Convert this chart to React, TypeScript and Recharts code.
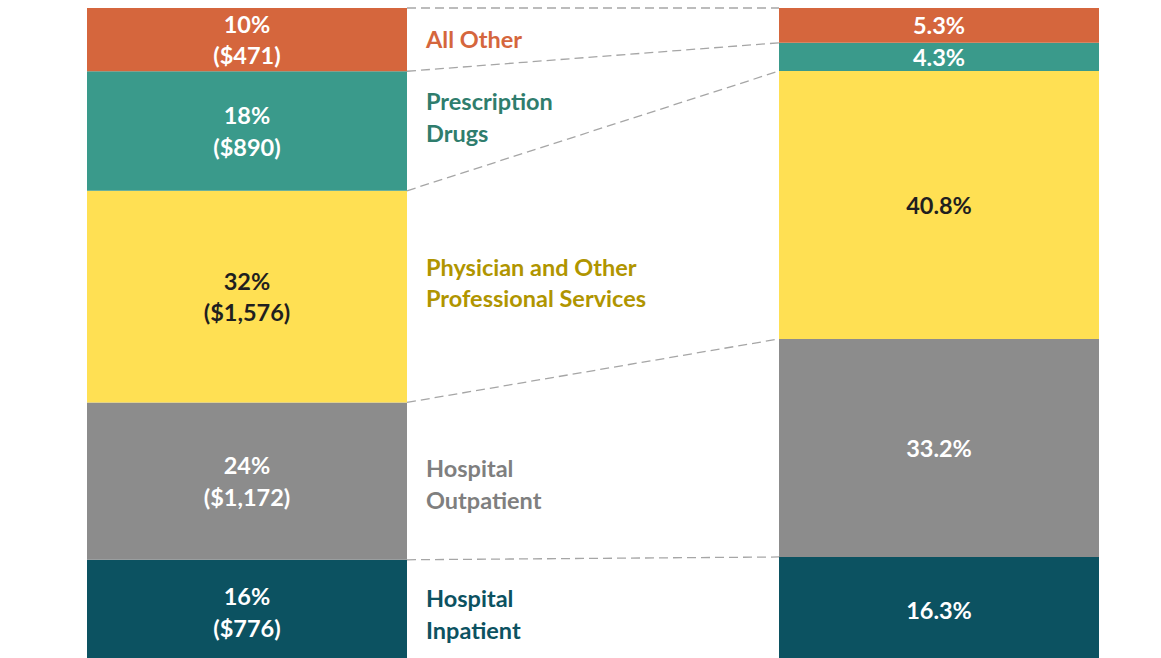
import { BarChart, Bar, XAxis, YAxis, LabelList, useOffset, useChartWidth, useChartHeight } from 'recharts'

// segments, bottom to top
const keys = ['inpatient', 'outpatient', 'physician', 'rx', 'other']
const sideLabels = [
  ['Hospital', 'Inpatient'],
  ['Hospital', 'Outpatient'],
  ['Physician and Other', 'Professional Services'],
  ['Prescription', 'Drugs'],
  ['All Other']
]
const leftPct = ['16%', '24%', '32%', '18%', '10%']
const leftDollars = [776, 1172, 1576, 890, 471]
const rightPct = [16.3, 33.2, 40.8, 4.3, 5.3]

const barColors = ['#0C5261', '#8C8C8C', '#FFE053', '#3A9A8B', '#D5663D']
const valueColors = ['#fff', '#fff', '#1F1F1F', '#fff', '#fff']
const sideColors = ['#0C5261', '#7F7F7F', '#B09500', '#2F7D6D', '#D5663D']
// side label vertical nudge (px), as placed in the original slide
const sideNudge = [2, 3, -14, -14, -1]

const W = 1161
const H = 664
const BAR = 320
const FONT = "Lato, 'Open Sans', sans-serif"
const FS = 23.5

const leftRow: any = { name: 'before' }
const gapRow: any = { name: 'gap' }
const rightRow: any = { name: 'after' }
keys.forEach((k, i) => {
  leftRow[k] = leftDollars[i]
  rightRow[k] = rightPct[i]
})
const data = [leftRow, gapRow, rightRow]

const fmt = (n: number) => '($' + n.toLocaleString('en-US') + ')'

function Connectors() {
  const offset: any = useOffset()
  const cw = useChartWidth() ?? W
  const ch = useChartHeight() ?? H
  if (!offset) return null
  const plotW = cw - offset.left - offset.right
  const plotH = ch - offset.top - offset.bottom
  const band = plotW / 3
  const x1 = offset.left + band / 2 + BAR / 2
  const x2 = offset.left + band * 2.5 - BAR / 2
  const totL = leftDollars.reduce((a, b) => a + b, 0)
  const totR = rightPct.reduce((a, b) => a + b, 0)
  const lines = []
  let cl = 0
  let cr = 0
  for (let i = 0; i < keys.length; i++) {
    cl += leftDollars[i]
    cr += rightPct[i]
    const y1 = offset.top + plotH * (1 - cl / totL)
    const y2 = offset.top + plotH * (1 - cr / totR)
    lines.push(
      <line key={i} x1={x1} y1={y1} x2={x2} y2={y2}
        stroke="#A6A6A6" strokeWidth={1.3} strokeDasharray="9 5" />
    )
  }
  return <g>{lines}</g>
}

function makeLabel(i: number) {
  return (props: any) => {
    const { x, y, width, height } = props
    if (x == null || !height) return null
    const cx = x + width / 2
    const cy = y + height / 2
    const isRight = cx > W / 2
    if (isRight) {
      return (
        <text x={cx} y={cy} textAnchor="middle" dominantBaseline="central"
          fill={valueColors[i]} fontFamily={FONT} fontWeight={700} fontSize={FS}>
          {rightPct[i].toFixed(1) + '%'}
        </text>
      )
    }
    const side = sideLabels[i]
    const lh = 31.5
    return (
      <g>
        <text x={cx} y={cy - lh / 2} textAnchor="middle" dominantBaseline="central"
          fill={valueColors[i]} fontFamily={FONT} fontWeight={700} fontSize={FS}>
          {leftPct[i]}
        </text>
        <text x={cx} y={cy + lh / 2} textAnchor="middle" dominantBaseline="central"
          fill={valueColors[i]} fontFamily={FONT} fontWeight={700} fontSize={FS}>
          {fmt(leftDollars[i])}
        </text>
        {side.map((s, j) => (
          <text key={j} x={x + width + 19}
            y={cy + sideNudge[i] + (j - (side.length - 1) / 2) * lh}
            dominantBaseline="central" fill={sideColors[i]}
            fontFamily={FONT} fontWeight={700} fontSize={FS}>
            {s}
          </text>
        ))}
      </g>
    )
  }
}

export default function App() {
  return (
    <div style={{ position: 'fixed', top: 0, left: 0, width: W, height: 658, overflow: 'hidden', background: '#fff' }}>
      <BarChart width={W} height={H} data={data} stackOffset="expand" barSize={BAR}
        margin={{ top: 8, right: 49, bottom: 0, left: 74 }}>
        <XAxis dataKey="name" hide />
        <YAxis hide domain={[0, 1]} />
        {keys.map((k, i) => (
          <Bar key={k} dataKey={k} stackId="a" fill={barColors[i]} isAnimationActive={false}>
            <LabelList dataKey={k} content={makeLabel(i)} />
          </Bar>
        ))}
        <Connectors />
      </BarChart>
    </div>
  )
}
